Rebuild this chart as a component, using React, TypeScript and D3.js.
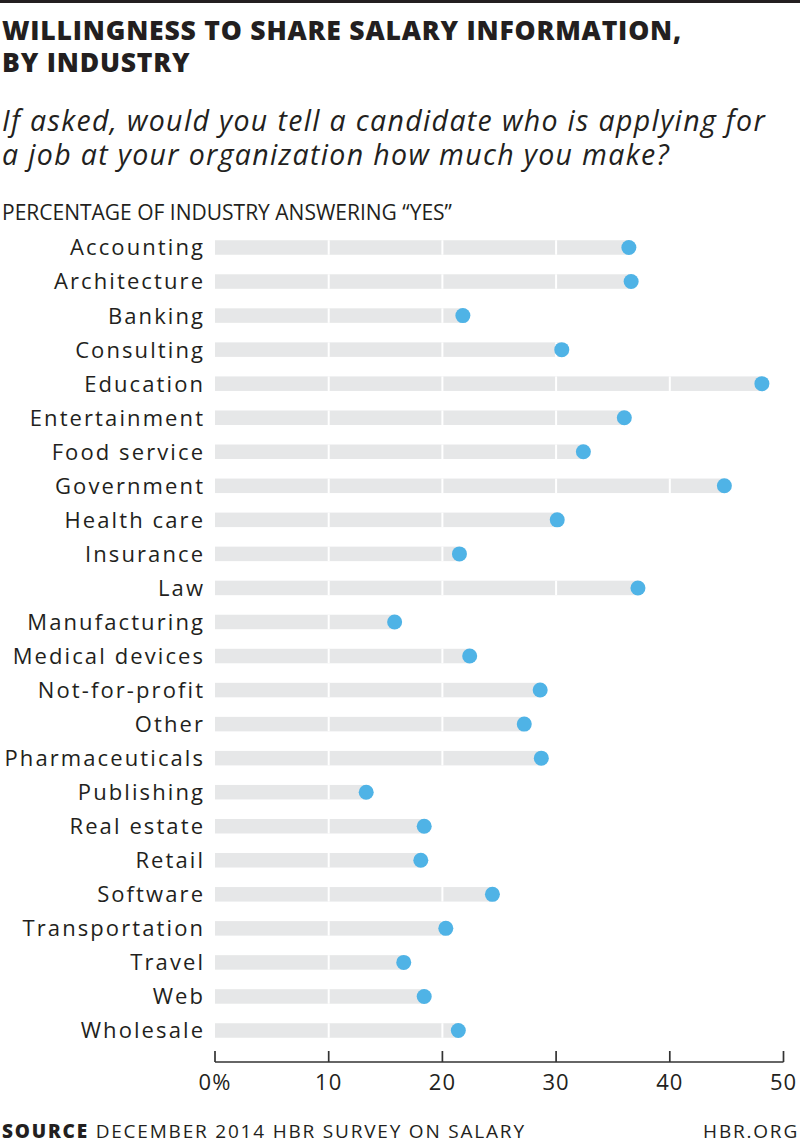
import React from "react";
import * as d3 from "d3";

const industries = [
  "Accounting", "Architecture", "Banking", "Consulting", "Education", "Entertainment",
  "Food service", "Government", "Health care", "Insurance", "Law", "Manufacturing",
  "Medical devices", "Not-for-profit", "Other", "Pharmaceuticals", "Publishing",
  "Real estate", "Retail", "Software", "Transportation", "Travel", "Web", "Wholesale",
];
const yesShare = [
  36.4, 36.6, 21.8, 30.5, 48.1, 36.0, 32.4, 44.8, 30.1, 21.5, 37.2, 15.8,
  22.4, 28.6, 27.2, 28.7, 13.3, 18.4, 18.1, 24.4, 20.3, 16.6, 18.4, 21.4,
];
const tickValues = [0, 10, 20, 30, 40, 50];
const gridValues = [10, 20, 30, 40];

const W = 800;
const H = 1147;
const INK = "#231f20";
const FONT = "'Open Sans', sans-serif";

export default function App() {
  const x = d3.scaleLinear().domain([0, 50]).range([215, 783.5]);
  const y = d3.scalePoint<string>().domain(industries).range([247.5, 1030.5]);
  const barH = 14.5;
  const axisY = 1062;
  const labelLS = 2.1;

  return (
    <svg width={W} height={H} style={{ display: "block", position: "absolute", left: 0, top: 0 }}>
      <rect x={0} y={0} width={W} height={H} fill="#fff" />
      <rect x={0} y={0} width={W} height={3} fill={INK} />
      <text x={2} y={40} fontFamily={FONT} fontWeight={800} fontSize={26.5} fill={INK} letterSpacing={0.8}>
        WILLINGNESS TO SHARE SALARY INFORMATION,
      </text>
      <text x={2} y={72} fontFamily={FONT} fontWeight={800} fontSize={26.5} fill={INK} letterSpacing={0.8}>
        BY INDUSTRY
      </text>
      <text x={2} y={131} fontFamily={FONT} fontStyle="italic" fontSize={28.5} fill={INK} letterSpacing={1.35}>
        If asked, would you tell a candidate who is applying for
      </text>
      <text x={2} y={165} fontFamily={FONT} fontStyle="italic" fontSize={28.5} fill={INK} letterSpacing={1.35}>
        a job at your organization how much you make?
      </text>
      <text x={2} y={220} fontFamily={FONT} fontSize={21} fill={INK}>
        PERCENTAGE OF INDUSTRY ANSWERING “YES”
      </text>

      {industries.map((name, i) => {
        const cy = y(name)!;
        const v = yesShare[i];
        return (
          <g key={name}>
            <rect x={x(0)} y={cy - barH / 2} width={x(v) - x(0)} height={barH} fill="#e6e7e8" />
            {gridValues.filter((g) => g < v).map((g) => (
              <rect key={g} x={x(g) - 1} y={cy - barH / 2} width={2} height={barH} fill="#fff" />
            ))}
            <circle cx={x(v)} cy={cy} r={7.5} fill="#4fb3e6" />
            <text x={203 + labelLS} y={cy} dy="0.36em" textAnchor="end" fontFamily={FONT} fontSize={22} fill={INK} letterSpacing={labelLS}>
              {name}
            </text>
          </g>
        );
      })}

      <line x1={x(0)} x2={x(50)} y1={axisY} y2={axisY} stroke="#333" strokeWidth={1.7} />
      {tickValues.map((t) => (
        <g key={t}>
          <line x1={x(t)} x2={x(t)} y1={axisY - 11} y2={axisY} stroke="#333" strokeWidth={1.7} />
          <text x={x(t)} y={1090} textAnchor="middle" fontFamily={FONT} fontSize={22} fill={INK} letterSpacing={1}>
            {t === 0 ? "0%" : String(t)}
          </text>
        </g>
      ))}

      <text x={2} y={1138} fontFamily={FONT} fontSize={19} fill={INK} letterSpacing={1.8}>
        <tspan fontWeight={800}>SOURCE</tspan> DECEMBER 2014 HBR SURVEY ON SALARY
      </text>
      <text x={799} y={1138} textAnchor="end" fontFamily={FONT} fontSize={19} fill={INK} letterSpacing={1.8}>
        HBR.ORG
      </text>
    </svg>
  );
}
